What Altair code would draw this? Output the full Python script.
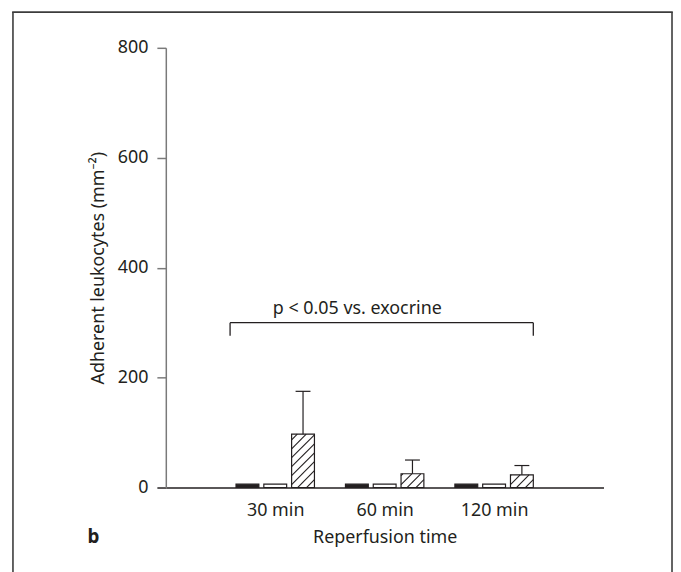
import json
import altair as alt
import pandas as pd

# ---------------- data ----------------
groups = ["30 min", "60 min", "120 min"]
series = ["filled", "open", "hatched"]
filled_vals = [6, 6, 6]
open_vals = [6, 6, 6]
hatched_vals = [97, 25, 23]
hatched_err = [78, 25, 17]
y_ticks = [0, 200, 400, 600, 800]
bracket_text = "p < 0.05 vs. exocrine"
panel_letter = "b"

# ---------------- layout ----------------
W, H = 441, 443
XMAX, YMAX = 4, 800
PX_X = W / XMAX
PX_Y = H / YMAX
BAR_STEP = 28 / PX_X
HALF_W = 11.5 / PX_X
CAP_HALF = 7.5 / PX_X
HATCH_SP = 9.0
INK = "#231f20"
GREY = "#7a7a7a"
FONT = "Noto Sans"
FS = 18

rows = []
for gi, g in enumerate(groups):
    for si, (s, vals) in enumerate(zip(series, [filled_vals, open_vals, hatched_vals])):
        c = gi + 1 + (si - 1) * BAR_STEP
        rows.append(dict(group=g, series=s, value=vals[gi], base=0,
                         x0=c - HALF_W, x1=c + HALF_W, center=c))
df = pd.DataFrame(rows)

# hatch lines for hatched bars (45 degree, clipped to the bar rectangle)
hatch = []
for r in rows:
    if r["series"] != "hatched":
        continue
    w = (r["x1"] - r["x0"]) * PX_X
    h = r["value"] * PX_Y
    k = -int(w // HATCH_SP) - 1
    while k * HATCH_SP < h:
        c = k * HATCH_SP + 3
        xs_, xe_ = max(0.0, -c), min(w, h - c)
        if xe_ > xs_:
            hatch.append(dict(x0=r["x0"] + xs_ / PX_X, x1=r["x0"] + xe_ / PX_X,
                              value=(xs_ + c) / PX_Y, top=(xe_ + c) / PX_Y))
        k += 1
hdf = pd.DataFrame(hatch)

edf = pd.DataFrame([
    dict(x0=r["center"], value=r["value"], top=r["value"] + hatched_err[i],
         cl=r["center"] - CAP_HALF, x1=r["center"] + CAP_HALF)
    for i, r in enumerate([r for r in rows if r["series"] == "hatched"])
])

xs = alt.Scale(domain=[0, XMAX], nice=False, zero=False)
ys = alt.Scale(domain=[0, YMAX], nice=False)

label_expr = json.dumps(groups) + "[datum.value - 1]"

x_axis = alt.Axis(
    values=[1, 2, 3], labelExpr=label_expr, ticks=False, tickSize=0,
    domainColor=INK, domainWidth=1.5, grid=False, title="Reperfusion time",
    labelPadding=14, titlePadding=9, labelFontSize=FS, titleFontSize=FS,
    titleFontWeight="normal", labelColor=INK, titleColor=INK,
    labelFont=FONT, titleFont=FONT)
y_axis = alt.Axis(
    values=y_ticks, title="Adherent leukocytes (mm⁻²)", grid=False,
    domainColor=GREY,
    tickColor=alt.condition("datum.value == 0", alt.value(INK), alt.value(GREY)),
    tickSize=9, tickWidth=1.5,
    domainWidth=1.5, labelPadding=9, titlePadding=10, labelFontSize=FS,
    titleFontSize=FS, titleFontWeight="normal", labelColor=INK,
    titleColor=INK, labelFont=FONT, titleFont=FONT)


def X(field):
    return alt.X(field, scale=xs, axis=x_axis)


def Y(field):
    return alt.Y(field, scale=ys, axis=y_axis)


bars = alt.Chart(df).mark_bar(stroke=INK, strokeWidth=1.2).encode(
    x=X("x0:Q"), x2="x1:Q",
    y=Y("value:Q"), y2="base:Q",
    fill=alt.Fill("series:N", scale=alt.Scale(domain=series, range=[INK, "white", "white"]),
                  legend=None),
)

hatch_layer = alt.Chart(hdf).mark_rule(color=INK, strokeWidth=1.1).encode(
    x=X("x0:Q"), x2="x1:Q", y=Y("value:Q"), y2="top:Q",
)

err_v = alt.Chart(edf).mark_rule(color=INK, strokeWidth=1.2).encode(
    x=X("x0:Q"), y=Y("value:Q"), y2="top:Q",
)
err_c = alt.Chart(edf).mark_rule(color=INK, strokeWidth=1.2).encode(
    x=X("cl:Q"), x2="x1:Q", y=Y("top:Q"),
)

# significance bracket
b_left = 1 - BAR_STEP - HALF_W - 6 / PX_X
b_right = 3 + BAR_STEP + HALF_W
b_level, b_drop = 300, 24
bdf = pd.DataFrame([
    dict(x0=b_left, x1=b_right, value=b_level, top=b_level),
    dict(x0=b_left, x1=b_left, value=b_level, top=b_level - b_drop),
    dict(x0=b_right, x1=b_right, value=b_level, top=b_level - b_drop),
])
bracket = alt.Chart(bdf).mark_rule(color=INK, strokeWidth=1.3).encode(
    x=X("x0:Q"), x2="x1:Q", y=Y("value:Q"), y2="top:Q",
)
btext = alt.Chart(pd.DataFrame([dict(x0=1.75, value=315, t=bracket_text)])).mark_text(
    font=FONT, fontSize=FS, color=INK, align="center", baseline="alphabetic"
).encode(x=X("x0:Q"), y=Y("value:Q"), text="t:N")

one = pd.DataFrame({"a": [0]})
frame_color = "#3c3c3c"
frame_l = alt.Chart(one).mark_rule(color=frame_color, strokeWidth=1.6).encode(
    x=alt.value(-154), y=alt.value(-36), y2=alt.value(540))
frame_r = alt.Chart(one).mark_rule(color=frame_color, strokeWidth=1.6).encode(
    x=alt.value(510), y=alt.value(-36), y2=alt.value(540))
frame_t = alt.Chart(one).mark_rule(color=frame_color, strokeWidth=1.6).encode(
    x=alt.value(-154.8), x2=alt.value(510.8), y=alt.value(-36))
letter = alt.Chart(one).mark_text(
    text=panel_letter, font=FONT, fontSize=19, fontWeight="bold", color=INK,
    align="center", baseline="alphabetic").encode(x=alt.value(-73), y=alt.value(499))

chart = alt.layer(
    bars, hatch_layer, err_v, err_c, bracket, btext, frame_l, frame_r, frame_t, letter
).properties(
    width=W, height=H,
    autosize=alt.AutoSizeParams(type="none"),
    padding={"left": 159, "top": 38, "right": 70, "bottom": 83},
    background="white",
).configure_view(stroke=None)

chart.save("out.html", embed_options={"renderer": "svg", "actions": False})
